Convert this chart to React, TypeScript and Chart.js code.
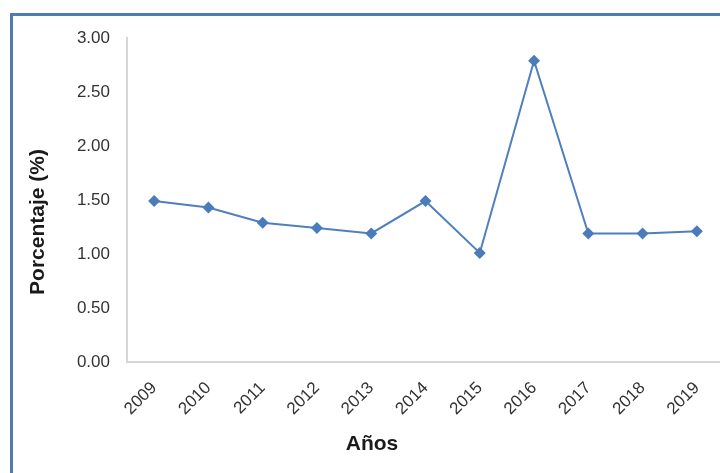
import React, { useEffect, useRef } from "react";
import { Chart, registerables } from "chart.js";

Chart.register(...registerables);

const years = ["2009", "2010", "2011", "2012", "2013", "2014", "2015", "2016", "2017", "2018", "2019"];
const porcentaje = [1.49, 1.43, 1.29, 1.24, 1.19, 1.49, 1.01, 2.79, 1.19, 1.19, 1.21];
const yTitle = "Porcentaje (%)";
const xTitle = "Años";

const FONT = "'Liberation Sans', Arial, sans-serif";

const axisTitles = {
  id: "axisTitles",
  afterDraw(chart: any) {
    const ctx = chart.ctx;
    const area = chart.chartArea;
    ctx.save();
    ctx.fillStyle = "#1a1a1a";
    ctx.font = `bold 21px ${FONT}`;
    ctx.textAlign = "center";
    ctx.textBaseline = "middle";
    // x title centred on the framed chart object
    const cx = (10 + chart.width - 6) / 2;
    ctx.fillText(xTitle, cx, area.bottom + 82);
    // y title, slightly below the plot's vertical centre
    ctx.translate(38, (area.top + area.bottom) / 2 + 22);
    ctx.rotate(-Math.PI / 2);
    ctx.fillText(yTitle, 0, 0);
    ctx.restore();
  },
};

export default function App() {
  const ref = useRef<HTMLCanvasElement | null>(null);

  useEffect(() => {
    document.body.style.margin = "0";
    document.body.style.overflow = "hidden";
    const ctx = ref.current;
    if (!ctx) return;
    const chart = new Chart(ctx, {
      type: "line",
      data: {
        labels: years,
        datasets: [
          {
            data: porcentaje,
            borderColor: "#4f7fbd",
            backgroundColor: "#4a7bbb",
            borderWidth: 2,
            pointStyle: "rectRot",
            pointRadius: 6,
            pointBorderWidth: 0,
            pointBackgroundColor: "#4a7bbb",
            tension: 0,
          },
        ],
      },
      options: {
        responsive: false,
        animation: false,
        layout: { padding: { left: 0, top: 38, right: 16, bottom: 0 } },
        plugins: { legend: { display: false }, tooltip: { enabled: false } },
        scales: {
          x: {
            offset: true,
            grid: { display: false, drawTicks: false },
            border: { display: true, color: "#d6d6d6", width: 2 },
            ticks: {
              maxRotation: 45,
              minRotation: 45,
              padding: 16,
              color: "#333333",
              font: { family: FONT, size: 17 },
              autoSkip: false,
            },
            afterFit: (s: any) => {
              s.height = 111;
            },
          },
          y: {
            min: 0,
            max: 3,
            grid: { display: false, drawTicks: false },
            border: { display: true, color: "#d6d6d6", width: 2 },
            ticks: {
              stepSize: 0.5,
              padding: 17,
              color: "#333333",
              font: { family: FONT, size: 17 },
              callback: (v: any) => Number(v).toFixed(2),
            },
            afterFit: (s: any) => {
              s.width = 127;
            },
          },
        },
      },
      plugins: [axisTitles],
    });
    return () => chart.destroy();
  }, []);

  return (
    <div
      style={{
        position: "fixed",
        left: 0,
        top: 0,
        width: 720,
        height: 473,
        overflow: "hidden",
        background: "#ffffff",
      }}
    >
      <div
        style={{
          position: "absolute",
          left: 10,
          top: 13,
          width: 800,
          height: 600,
          border: "3px solid #4f7bb5",
          boxSizing: "border-box",
        }}
      />
      <canvas
        ref={ref}
        width={740}
        height={473}
        style={{ position: "absolute", left: 0, top: 0, width: 740, height: 473 }}
      />
    </div>
  );
}
